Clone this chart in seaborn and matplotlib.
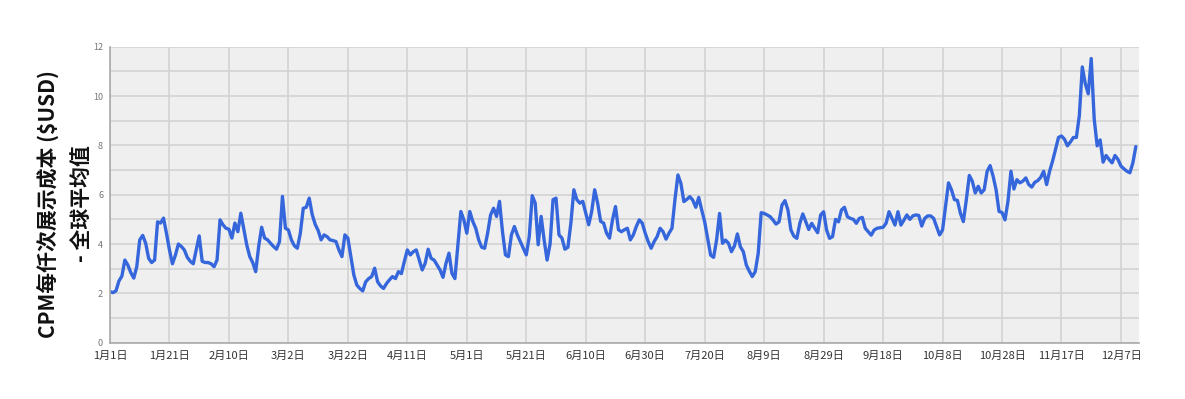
import pandas as pd
import numpy as np
import seaborn as sns
import matplotlib.pyplot as plt

# days since Jan 1 and the global average CPM
day_index = list(range(0, 346))
cpm_usd = [
    2.07, 2.03, 2.10, 2.50, 2.70, 3.35, 3.15, 2.84, 2.62, 3.08,
    4.17, 4.35, 4.03, 3.42, 3.25, 3.35, 4.90, 4.85, 5.05, 4.43,
    3.76, 3.20, 3.55, 4.00, 3.90, 3.76, 3.46, 3.30, 3.20, 3.76,
    4.33, 3.30, 3.25, 3.25, 3.20, 3.08, 3.35, 4.98, 4.78, 4.64,
    4.60, 4.24, 4.85, 4.50, 5.25, 4.60, 3.96, 3.49, 3.25, 2.88,
    3.90, 4.68, 4.24, 4.17, 4.03, 3.90, 3.79, 4.10, 5.93, 4.64,
    4.57, 4.17, 3.93, 3.83, 4.43, 5.45, 5.49, 5.86, 5.20, 4.80,
    4.55, 4.17, 4.37, 4.30, 4.17, 4.14, 4.10, 3.76, 3.49, 4.37,
    4.24, 3.49, 2.75, 2.34, 2.20, 2.10, 2.47, 2.60, 2.68, 3.02,
    2.47, 2.30, 2.20, 2.40, 2.55, 2.68, 2.60, 2.88, 2.80, 3.30,
    3.76, 3.56, 3.69, 3.76, 3.35, 2.95, 3.22, 3.79, 3.42, 3.35,
    3.15, 2.95, 2.65, 3.22, 3.63, 2.81, 2.60, 3.97, 5.32, 4.98,
    4.44, 5.32, 4.92, 4.64, 4.17, 3.87, 3.83, 4.44, 5.18, 5.45,
    5.12, 5.73, 4.50, 3.56, 3.49, 4.37, 4.71, 4.37, 4.10, 3.83,
    3.56, 4.30, 5.96, 5.66, 3.97, 5.12, 4.17, 3.35, 4.00, 5.80,
    5.86, 4.37, 4.24, 3.79, 3.87, 4.85, 6.20, 5.80, 5.66, 5.73,
    5.25, 4.78, 5.32, 6.20, 5.66, 4.92, 4.85, 4.44, 4.24, 4.98,
    5.52, 4.58, 4.50, 4.58, 4.64, 4.17, 4.37, 4.71, 4.98, 4.85,
    4.44, 4.10, 3.83, 4.10, 4.30, 4.64, 4.50, 4.20, 4.44, 4.64,
    5.80, 6.80, 6.46, 5.72, 5.81, 5.92, 5.78, 5.49, 5.89, 5.38,
    4.90, 4.23, 3.55, 3.46, 4.16, 5.24, 4.03, 4.16, 4.03, 3.69,
    3.92, 4.41, 3.89, 3.69, 3.15, 2.90, 2.68, 2.88, 3.62, 5.27,
    5.24, 5.18, 5.11, 4.97, 4.81, 4.90, 5.58, 5.76, 5.38, 4.57,
    4.32, 4.23, 4.84, 5.22, 4.90, 4.59, 4.84, 4.64, 4.46, 5.18,
    5.31, 4.57, 4.23, 4.30, 5.00, 4.90, 5.38, 5.49, 5.11, 5.04,
    5.00, 4.84, 5.04, 5.08, 4.64, 4.50, 4.36, 4.57, 4.64, 4.66,
    4.68, 4.84, 5.31, 5.04, 4.77, 5.31, 4.77, 4.97, 5.18, 5.00,
    5.14, 5.18, 5.16, 4.73, 5.04, 5.14, 5.14, 5.04, 4.71, 4.37,
    4.57, 5.52, 6.48, 6.20, 5.80, 5.77, 5.25, 4.91, 5.80, 6.78,
    6.55, 6.07, 6.34, 6.07, 6.20, 6.95, 7.18, 6.75, 6.20, 5.32,
    5.28, 4.98, 5.73, 6.95, 6.23, 6.61, 6.48, 6.55, 6.68, 6.41,
    6.31, 6.50, 6.57, 6.70, 6.95, 6.41, 6.95, 7.36, 7.84, 8.32,
    8.38, 8.25, 7.98, 8.14, 8.32, 8.32, 9.20, 11.18, 10.50, 10.09,
    11.52, 9.07, 7.98, 8.22, 7.32, 7.59, 7.43, 7.29, 7.59, 7.43,
    7.16, 7.05, 6.95, 6.89, 7.29, 7.95,
]
tick_labels = ['1月1日', '1月21日', '2月10日', '3月2日', '3月22日', '4月11日',
               '5月1日', '5月21日', '6月10日', '6月30日', '7月20日', '8月9日',
               '8月29日', '9月18日', '10月8日', '10月28日', '11月17日', '12月7日']
y_label = 'CPM每仟次展示成本 (\\$USD)\n- 全球平均值'

start = pd.Timestamp('2015-01-01')
df = pd.DataFrame({
    'date': start + pd.to_timedelta(day_index, unit='D'),
    'cpm': cpm_usd,
})

sns.set_style('whitegrid', {
    'axes.facecolor': '#efefef',
    'grid.color': '#d3d3d3',
    'axes.edgecolor': '#b0b0b0',
})
plt.rcParams['font.family'] = ['Noto Sans CJK SC', 'DejaVu Sans']

fig = plt.figure(figsize=(11.85, 3.99), dpi=100)
ax = fig.add_axes([110 / 1185, 1 - 342.7 / 399, 1028.5 / 1185, 296 / 399])

sns.lineplot(data=df, x='date', y='cpm', color='#3566dc', linewidth=2.4, ax=ax)

tick_pos = [start + pd.Timedelta(days=20 * i) for i in range(len(tick_labels))]
ax.set_xticks(tick_pos)
ax.set_xticklabels(tick_labels, fontsize=8, color='#333333')
ax.set_xlim(start, start + pd.Timedelta(days=345.9))

ax.set_ylim(0, 12)
ax.set_yticks(np.arange(0, 13, 2))
ax.set_yticks(np.arange(1, 12, 2), minor=True)
ax.tick_params(axis='y', labelsize=6.5, labelcolor='#777777', length=0, pad=5)
ax.tick_params(axis='x', length=0, pad=6)
ax.grid(True, which='both', color='#d3d3d3', linewidth=1.2)

for side in ['top', 'right']:
    ax.spines[side].set_visible(False)
for side in ['left', 'bottom']:
    ax.spines[side].set_color('#aaaaaa')
    ax.spines[side].set_linewidth(1.2)

ax.set_xlabel('')
ax.set_ylabel(y_label, fontsize=15, fontweight='bold', color='#111111', linespacing=1.7)
ax.yaxis.set_label_coords(-0.018, 0.47)

fig.savefig('out.png', dpi=100)
